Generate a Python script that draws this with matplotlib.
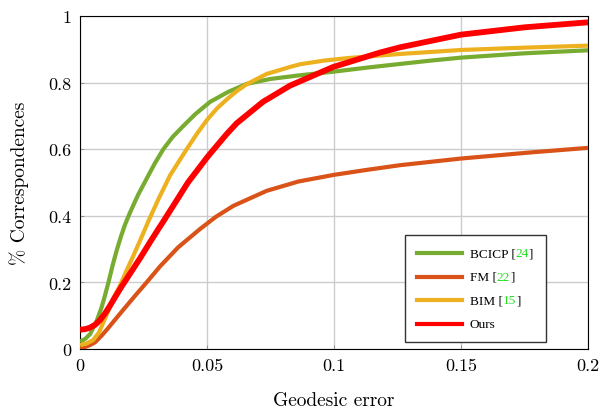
import matplotlib
matplotlib.use("Agg")
import matplotlib.pyplot as plt
from matplotlib.offsetbox import AnchoredOffsetbox, VPacker, HPacker, TextArea, DrawingArea
from matplotlib.lines import Line2D

x_bcicp = [0, 0.002, 0.004, 0.0066, 0.0085, 0.0098, 0.0112, 0.0128, 0.0144, 0.016, 0.0177, 0.0197,
           0.023, 0.0262, 0.0295, 0.0328, 0.0365, 0.0407, 0.0455, 0.0512, 0.0583, 0.0656, 0.075,
           0.0866, 0.1, 0.113, 0.126, 0.138, 0.15, 0.175, 0.2]
y_bcicp = [0.022, 0.03, 0.045, 0.085, 0.125, 0.16, 0.20, 0.25, 0.295, 0.335, 0.373, 0.41,
           0.465, 0.511, 0.558, 0.60, 0.637, 0.67, 0.706, 0.742, 0.772, 0.796, 0.811,
           0.822, 0.833, 0.845, 0.856, 0.866, 0.875, 0.888, 0.897]

x_fm = [0, 0.002, 0.004, 0.0059, 0.0085, 0.011, 0.0138, 0.0175, 0.0217, 0.026, 0.0315, 0.0386,
        0.0472, 0.0535, 0.0604, 0.0735, 0.086, 0.1, 0.113, 0.126, 0.15, 0.1785, 0.2]
y_fm = [0.0, 0.006, 0.012, 0.02, 0.04, 0.062, 0.088, 0.122, 0.16, 0.198, 0.248, 0.305,
        0.36, 0.397, 0.43, 0.475, 0.503, 0.523, 0.538, 0.552, 0.572, 0.591, 0.604]

x_bim = [0, 0.0025, 0.0052, 0.0075, 0.0092, 0.0112, 0.0131, 0.0157, 0.0183, 0.021, 0.0239, 0.027,
         0.031, 0.0355, 0.042, 0.046, 0.05, 0.054, 0.0583, 0.062, 0.0656, 0.0735, 0.0827, 0.0866,
         0.096, 0.106, 0.126, 0.15, 0.175, 0.2]
y_bim = [0.012, 0.016, 0.027, 0.05, 0.08, 0.115, 0.152, 0.19, 0.235, 0.28, 0.33, 0.385,
         0.452, 0.522, 0.60, 0.646, 0.688, 0.723, 0.753, 0.776, 0.795, 0.826, 0.847, 0.855,
         0.866, 0.874, 0.886, 0.898, 0.905, 0.911]

x_ours = [0, 0.002, 0.0039, 0.006, 0.0079, 0.0098, 0.0118, 0.014, 0.0164, 0.0177, 0.02, 0.0236,
          0.0275, 0.0315, 0.0328, 0.0425, 0.05, 0.0525, 0.0577, 0.0617, 0.072, 0.0827, 0.0997,
          0.118, 0.126, 0.15, 0.175, 0.2]
y_ours = [0.058, 0.0595, 0.064, 0.073, 0.087, 0.106, 0.13, 0.158, 0.188, 0.203, 0.23, 0.272,
          0.32, 0.368, 0.383, 0.5, 0.575, 0.598, 0.645, 0.678, 0.742, 0.791, 0.847,
          0.89, 0.906, 0.944, 0.966, 0.981]

series_names = ["BCICP", "FM", "BIM", "Ours"]
series_refs = ["24", "22", "15", ""]
colors = ["#77AC30", "#D95319", "#EDB120", "#FF0000"]

xticks = [0, 0.05, 0.1, 0.15, 0.2]
xticklabels = ["0", "0.05", "0.1", "0.15", "0.2"]
yticks = [0, 0.2, 0.4, 0.6, 0.8, 1.0]
yticklabels = ["0", "0.2", "0.4", "0.6", "0.8", "1"]

cm = "cmr10"
fig = plt.figure(figsize=(6.05, 4.1), dpi=100)
ax = fig.add_axes([80/605, 1-350/410, 508/605, 333/410])

data = [(x_bcicp, y_bcicp), (x_fm, y_fm), (x_bim, y_bim), (x_ours, y_ours)]
lws = [3.0, 3.0, 3.0, 4.2]
for (xs, ys), c, lw in zip(data, colors, lws):
    ax.plot(xs, ys, color=c, lw=lw, solid_capstyle="butt", solid_joinstyle="round", zorder=3)

ax.set_xlim(0, 0.2)
ax.set_ylim(0, 1)
ax.set_xticks(xticks)
ax.set_xticklabels(xticklabels, fontfamily=cm, fontsize=13)
ax.set_yticks(yticks)
ax.set_yticklabels(yticklabels, fontfamily=cm, fontsize=13)
ax.tick_params(direction="in", length=3, width=0.6, color="#888888", pad=6)
ax.grid(True, color="#cccccc", lw=1.0, zorder=0)
ax.set_axisbelow(True)
for s in ax.spines.values():
    s.set_linewidth(0.8)
    s.set_color("black")
ax.set_xlabel("Geodesic error", fontfamily=cm, fontsize=14, labelpad=13)
ax.set_ylabel("% Correspondences", fontfamily=cm, fontsize=14, labelpad=14)

# legend (offsetbox units are points: 1 px = 0.72 pt at 100 dpi)
line_len = 32.4
rows = []
for name, ref, c in zip(series_names, series_refs, colors):
    da = DrawingArea(line_len, 7, 0, 0)
    da.add_artist(Line2D([0, line_len], [3.5, 3.5], color=c, lw=3.0))
    parts = [da]
    tp = dict(fontfamily="Liberation Serif", fontsize=9.5, color="black")
    if ref:
        parts.append(HPacker(children=[
            TextArea(name + " [", textprops=tp),
            TextArea(ref, textprops=dict(fontfamily="Liberation Serif", fontsize=9.5, color="#22dd22")),
            TextArea("]", textprops=tp)], sep=0, pad=0, align="baseline"))
    else:
        parts.append(TextArea(name, textprops=tp))
    rows.append(HPacker(children=parts, sep=5.5, pad=0, align="center"))
box = VPacker(children=rows, sep=8.2, pad=0, align="left")
anch = AnchoredOffsetbox(loc="lower right", child=box, pad=0.9, borderpad=0,
                         bbox_to_anchor=(0.917, 0.021), bbox_transform=ax.transAxes, frameon=True)
anch.patch.set_edgecolor("#333333")
anch.patch.set_linewidth(1.0)
anch.patch.set_boxstyle("square", pad=0)
anch.zorder = 5
ax.add_artist(anch)

fig.savefig("out.png", dpi=100)
